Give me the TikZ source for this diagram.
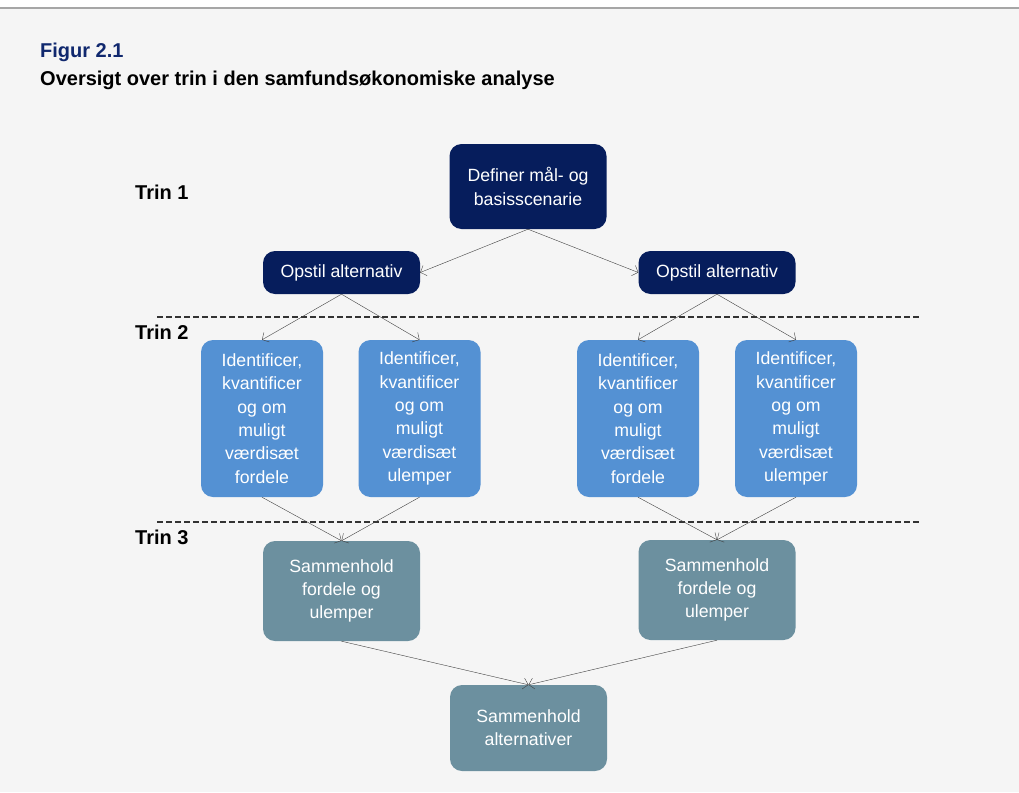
\documentclass[tikz,border=0pt]{standalone}
\usepackage{fontspec}
\setmainfont{Liberation Sans}
\usepackage{xcolor}
\usetikzlibrary{positioning, arrows.meta}

\definecolor{navybg}{RGB}{6,29,92}
\definecolor{skyblue}{RGB}{84,145,211}
\definecolor{slateteal}{RGB}{108,144,159}
\definecolor{pagegrey}{RGB}{245,245,245}
\definecolor{titleblue}{RGB}{16,40,110}

\begin{document}
\begin{tikzpicture}[
        x=1pt, y=-1pt,
        % --- box looks ---
        box/.style={
            rounded corners=12pt,
            inner sep=0pt,
            align=center,
            text=white,
            font=\fontsize{17.7}{23.3}\selectfont
        },
        navybox/.style={box, fill=navybg, minimum width=157pt},
        bluebox/.style={box, fill=skyblue, minimum width=122pt, minimum height=157pt},
        tealbox/.style={box, fill=slateteal, minimum width=157pt},
        trin/.style={anchor=west, inner sep=0pt, font=\fontsize{20}{23}\selectfont\bfseries},
        link/.style={draw=black!75, thin, -{Straight Barb[length=5pt,width=11pt]}},
        cut/.style={draw=black!80, line width=1.2pt, dash pattern=on 6pt off 3pt}
    ]

    % ==================== PAGE ====================
    \useasboundingbox (0,0) rectangle (1019,792);
    \fill[pagegrey] (0,9) rectangle (1019,792);
    \draw[black!35, line width=1.2pt] (0,8) -- (1019,8);

    \node[anchor=base west, inner sep=0pt, font=\fontsize{20}{24}\selectfont\bfseries, text=titleblue] (fignum) at (40,57) {Figur 2.1};
    \node[anchor=base west, inner sep=0pt, font=\fontsize{20}{24}\selectfont\bfseries] (figtitle) at (40,85) {Oversigt over trin i den samfundsøkonomiske analyse};

    % ==================== STEP LABELS ====================
    \node[trin] (trin1) at (135,192) {Trin 1};
    \node[trin] (trin2) at (135,332) {Trin 2};
    \node[trin] (trin3) at (135,537) {Trin 3};

    \coordinate (cutAw) at (157,317);
    \coordinate (cutAe) at (920,317);
    \coordinate (cutBw) at (157,522);
    \coordinate (cutBe) at (920,522);
    \draw[cut] (cutAw) -- (cutAe);
    \draw[cut] (cutBw) -- (cutBe);

    % ==================== BOXES ====================
    % Trin 1
    \node[navybox, minimum height=85pt] (define) at (528,186.5) {Definer mål- og\\basisscenarie};
    \node[navybox, minimum height=43pt] (altL)   at (341.5,272.5) {Opstil alternativ};
    \node[navybox, minimum height=43pt] (altR)   at (717,272.5)   {Opstil alternativ};

    % Trin 2
    \node[bluebox] (proL1) at (262,418.5) {Identificer,\\kvantificer\\og om\\muligt\\værdisæt\\fordele};
    \node[bluebox] (conL1) at (419.5,418.5) {Identificer,\\kvantificer\\og om\\muligt\\værdisæt\\ulemper};
    \node[bluebox] (proR1) at (638,418.5) {Identificer,\\kvantificer\\og om\\muligt\\værdisæt\\fordele};
    \node[bluebox] (conR1) at (796,418.5) {Identificer,\\kvantificer\\og om\\muligt\\værdisæt\\ulemper};

    % Trin 3
    \node[tealbox, minimum height=100pt] (sumL) at (341.5,591) {Sammenhold\\fordele og\\ulemper};
    \node[tealbox, minimum height=100pt] (sumR) at (717,590)   {Sammenhold\\fordele og\\ulemper};
    \node[tealbox, minimum height=86pt]  (final) at (528.5,728) {Sammenhold\\alternativer};

    % ==================== CONNECTORS ====================
    \path
        (define.south) edge[link] (altL.east)
                       edge[link] (altR.west)
        (altL.south)   edge[link] (proL1.north)
                       edge[link] (conL1.north)
        (altR.south)   edge[link] (proR1.north)
                       edge[link] (conR1.north)
        (proL1.south)  edge[link] (sumL.north)
        (conL1.south)  edge[link] (sumL.north)
        (proR1.south)  edge[link] (sumR.north)
        (conR1.south)  edge[link] (sumR.north)
        (sumL.south)   edge[link] (final.north)
        (sumR.south)   edge[link] (final.north);

\end{tikzpicture}
\end{document}
